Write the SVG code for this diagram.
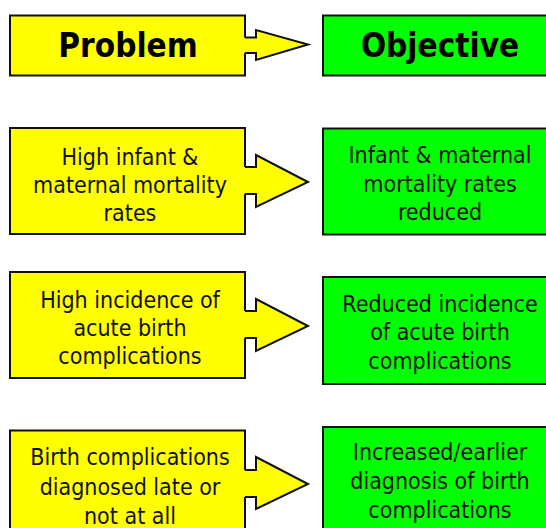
<svg xmlns="http://www.w3.org/2000/svg" width="546" height="528" viewBox="0 0 546 528">
<style>
.prob{fill:#ffff00;stroke:#111;stroke-width:2}
.obj{fill:#00ff00;stroke:#111;stroke-width:2}
.arrfill{fill:#ffff00;stroke:none}
.arrline{fill:none;stroke:#111;stroke-width:2;stroke-linejoin:miter}
.hd{font-family:"DejaVu Sans Condensed","DejaVu Sans",sans-serif;font-stretch:condensed;font-weight:bold;font-size:33px;text-anchor:middle;fill:#000}
.tx{font-family:"DejaVu Sans Condensed","DejaVu Sans",sans-serif;font-stretch:condensed;font-size:23px;text-anchor:middle;fill:#111}
</style>
<rect width="546" height="528" fill="#fff"/>
<g id="problem-header"><rect class="prob" x="10" y="15.5" width="235" height="60"/><text class="hd" x="128" y="57">Problem</text></g>
<g id="objective-header"><rect class="obj" x="323" y="15.5" width="235" height="60"/><text class="hd" x="440" y="57">Objective</text></g>
<g id="problem-1"><rect class="prob" x="10" y="128" width="235" height="106"/>
<text class="tx" x="130"><tspan x="130" y="165">High infant &amp;</tspan><tspan x="130" y="193">maternal mortality</tspan><tspan x="130" y="221">rates</tspan></text></g>
<g id="objective-1"><rect class="obj" x="323" y="128.5" width="235" height="106"/>
<text class="tx"><tspan x="440" y="163">Infant &amp; maternal</tspan><tspan x="440" y="192">mortality rates</tspan><tspan x="440" y="220">reduced</tspan></text></g>
<g id="problem-2"><rect class="prob" x="10" y="272" width="235" height="106"/>
<text class="tx"><tspan x="130" y="308">High incidence of</tspan><tspan x="130" y="336">acute birth</tspan><tspan x="130" y="364">complications</tspan></text></g>
<g id="objective-2"><rect class="obj" x="323" y="277" width="235" height="107"/>
<text class="tx"><tspan x="440" y="312">Reduced incidence</tspan><tspan x="440" y="340">of acute birth</tspan><tspan x="440" y="369">complications</tspan></text></g>
<g id="problem-3"><rect class="prob" x="10" y="430.5" width="235" height="108"/>
<text class="tx"><tspan x="130" y="465">Birth complications</tspan><tspan x="130" y="495">diagnosed late or</tspan><tspan x="130" y="524">not at all</tspan></text></g>
<g id="objective-3"><rect class="obj" x="323" y="427" width="235" height="108"/>
<text class="tx"><tspan x="440" y="460">Increased/earlier</tspan><tspan x="440" y="489">diagnosis of birth</tspan><tspan x="440" y="518">complications</tspan></text></g>
<g id="connectors">
<path class="arrfill" d="M243,37.5 H256 V30 L308,44.5 L256,60 V53 H243 Z"/>
<path class="arrline" d="M245,37.5 H256 V30 L308,44.5 L256,60 V53 H245"/>
<path class="arrfill" d="M243,167 H256 V155 L308,182 L256,207 V194 H243 Z"/>
<path class="arrline" d="M245,167 H256 V155 L308,182 L256,207 V194 H245"/>
<path class="arrfill" d="M243,311 H256 V299 L308,326 L256,351 V338 H243 Z"/>
<path class="arrline" d="M245,311 H256 V299 L308,326 L256,351 V338 H245"/>
<path class="arrfill" d="M243,470 H256 V457 L308,484 L256,509 V497 H243 Z"/>
<path class="arrline" d="M245,470 H256 V457 L308,484 L256,509 V497 H245"/>
</g>
</svg>
